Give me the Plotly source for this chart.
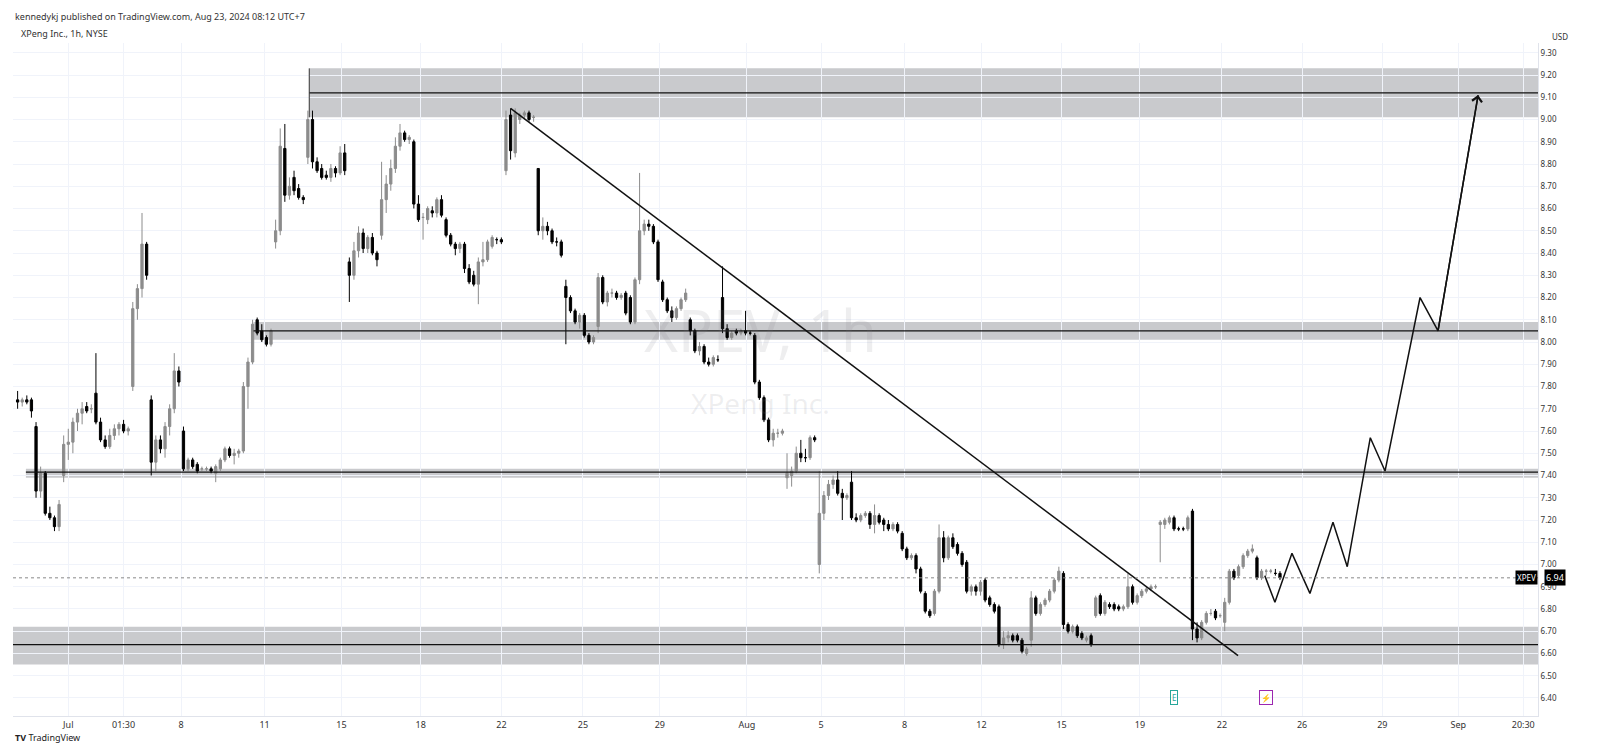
import plotly.graph_objects as go

# hourly XPEV bars (open, high, low, close)
bars = [
    (7.74,7.78,7.70,7.73),(7.73,7.75,7.71,7.74),(7.74,7.76,7.72,7.73),(7.74,7.75,7.66,7.69),
    (7.62,7.64,7.30,7.33),(7.33,7.44,7.30,7.41),(7.41,7.42,7.22,7.23),(7.23,7.26,7.20,7.21),
    (7.21,7.22,7.15,7.17),(7.17,7.29,7.15,7.27),(7.40,7.58,7.37,7.54),(7.54,7.61,7.47,7.55),
    (7.55,7.66,7.50,7.64),(7.64,7.70,7.60,7.68),(7.68,7.73,7.63,7.70),(7.71,7.73,7.68,7.69),
    (7.70,7.72,7.68,7.70),(7.77,7.95,7.63,7.64),(7.64,7.66,7.55,7.56),(7.56,7.58,7.52,7.53),
    (7.53,7.61,7.52,7.58),(7.58,7.63,7.56,7.61),(7.61,7.64,7.58,7.63),(7.63,7.65,7.59,7.60),
    (7.60,7.62,7.58,7.61),(7.80,8.18,7.78,8.15),(8.15,8.26,8.10,8.24),(8.24,8.58,8.20,8.44),
    (8.44,8.45,8.28,8.30),(7.74,7.76,7.40,7.46),(7.46,7.58,7.42,7.56),(7.56,7.58,7.50,7.52),
    (7.52,7.64,7.48,7.62),(7.62,7.72,7.58,7.70),(7.70,7.95,7.68,7.87),(7.87,7.89,7.80,7.82),
    (7.60,7.62,7.42,7.43),(7.43,7.48,7.42,7.47),(7.47,7.48,7.43,7.44),(7.45,7.46,7.41,7.42),
    (7.43,7.44,7.42,7.43),(7.43,7.44,7.42,7.43),(7.43,7.44,7.41,7.42),(7.41,7.45,7.37,7.44),
    (7.43,7.48,7.42,7.47),(7.47,7.53,7.46,7.52),(7.52,7.53,7.48,7.49),(7.49,7.52,7.45,7.50),
    (7.50,7.52,7.48,7.51),(7.51,7.82,7.50,7.80),(7.80,7.93,7.70,7.91),(7.91,8.10,7.90,8.08),
    (8.10,8.11,8.03,8.04),(8.05,8.08,8.00,8.01),(8.02,8.03,7.98,7.99),(7.99,8.06,7.98,8.05),
    (8.45,8.55,8.42,8.50),(8.50,8.96,8.48,8.88),(8.87,8.98,8.63,8.66),(8.66,8.74,8.64,8.70),
    (8.74,8.77,8.66,8.68),(8.69,8.71,8.64,8.65),(8.65,8.66,8.62,8.64),(8.83,9.04,8.80,9.00),
    (9.00,9.04,8.78,8.81),(8.81,8.83,8.76,8.77),(8.78,8.80,8.73,8.74),(8.75,8.77,8.73,8.74),
    (8.74,8.80,8.72,8.78),(8.78,8.79,8.74,8.76),(8.76,8.88,8.75,8.85),(8.85,8.89,8.75,8.77),
    (8.36,8.38,8.18,8.30),(8.30,8.45,8.28,8.41),(8.41,8.52,8.38,8.49),(8.49,8.51,8.40,8.42),
    (8.42,8.48,8.40,8.47),(8.47,8.49,8.39,8.40),(8.40,8.41,8.34,8.37),(8.48,8.81,8.46,8.64),
    (8.64,8.75,8.58,8.71),(8.71,8.82,8.68,8.78),(8.78,8.92,8.76,8.88),(8.88,8.98,8.86,8.94),
    (8.94,8.95,8.90,8.91),(8.91,8.93,8.89,8.92),(8.90,8.91,8.60,8.62),(8.62,8.66,8.54,8.55),
    (8.56,8.58,8.46,8.56),(8.55,8.61,8.53,8.60),(8.59,8.61,8.56,8.58),(8.58,8.65,8.56,8.64),
    (8.64,8.66,8.56,8.57),(8.55,8.56,8.47,8.48),(8.48,8.49,8.43,8.44),(8.44,8.45,8.39,8.42),
    (8.42,8.45,8.40,8.44),(8.44,8.45,8.31,8.33),(8.33,8.35,8.26,8.27),(8.30,8.32,8.25,8.26),
    (8.26,8.38,8.17,8.36),(8.36,8.45,8.34,8.37),(8.37,8.46,8.36,8.45),(8.43,8.48,8.42,8.47),
    (8.46,8.47,8.44,8.46),(8.46,8.47,8.44,8.45),(8.77,9.04,8.75,9.00),(9.02,9.05,8.82,8.86),
    (8.85,9.05,8.83,9.03),(9.00,9.03,8.98,9.02),(9.02,9.04,9.00,9.03),(9.03,9.04,8.99,9.00),
    (9.01,9.02,8.99,9.01),(8.78,8.78,8.48,8.50),(8.50,8.56,8.46,8.52),(8.52,8.54,8.48,8.50),
    (8.50,8.51,8.44,8.45),(8.45,8.47,8.43,8.45),(8.45,8.46,8.38,8.39),(8.25,8.28,7.99,8.20),
    (8.20,8.21,8.13,8.14),(8.14,8.15,8.08,8.09),(8.09,8.13,8.06,8.12),(8.12,8.13,8.02,8.03),
    (8.03,8.04,7.99,8.00),(8.00,8.03,7.99,8.02),(8.07,8.31,8.04,8.29),(8.29,8.30,8.17,8.18),
    (8.18,8.23,8.16,8.22),(8.22,8.24,8.20,8.22),(8.22,8.23,8.19,8.20),(8.20,8.22,8.19,8.21),
    (8.22,8.23,8.12,8.13),(8.20,8.21,8.08,8.09),(8.09,8.29,8.08,8.28),(8.28,8.76,8.26,8.50),
    (8.50,8.55,8.48,8.53),(8.53,8.55,8.50,8.52),(8.52,8.53,8.44,8.45),(8.45,8.46,8.27,8.28),
    (8.27,8.28,8.18,8.19),(8.19,8.20,8.13,8.14),(8.14,8.16,8.09,8.11),(8.11,8.16,8.10,8.15),
    (8.15,8.20,8.14,8.19),(8.19,8.24,8.18,8.22),(8.10,8.11,8.03,8.05),(8.05,8.06,7.95,7.96),
    (7.96,8.00,7.94,7.98),(7.98,7.99,7.90,7.91),(7.91,7.93,7.89,7.90),(7.90,7.94,7.89,7.93),
    (7.92,7.94,7.91,7.92),(8.20,8.34,8.04,8.06),(8.06,8.08,8.01,8.02),(8.02,8.05,8.01,8.04),
    (8.05,8.06,8.03,8.04),(8.04,8.06,8.03,8.05),(8.05,8.14,8.03,8.04),(8.04,8.05,8.03,8.04),
    (8.03,8.04,7.81,7.82),(7.82,7.83,7.74,7.75),(7.75,7.76,7.64,7.65),(7.65,7.66,7.55,7.56),
    (7.56,7.61,7.53,7.59),(7.59,7.61,7.57,7.59),(7.59,7.61,7.58,7.60),(7.39,7.50,7.34,7.41),
    (7.40,7.44,7.35,7.42),(7.42,7.53,7.41,7.50),(7.50,7.56,7.46,7.48),(7.48,7.52,7.46,7.48),
    (7.48,7.58,7.47,7.57),(7.57,7.58,7.55,7.56),(7.00,7.42,6.96,7.23),(7.23,7.33,7.20,7.31),
    (7.31,7.38,7.29,7.36),(7.36,7.40,7.34,7.38),(7.38,7.42,7.31,7.32),(7.32,7.34,7.20,7.30),
    (7.30,7.32,7.29,7.31),(7.37,7.42,7.20,7.21),(7.21,7.23,7.19,7.20),(7.20,7.23,7.19,7.22),
    (7.22,7.24,7.21,7.23),(7.23,7.24,7.16,7.18),(7.18,7.27,7.14,7.22),(7.22,7.23,7.18,7.19),
    (7.20,7.21,7.15,7.18),(7.18,7.20,7.15,7.16),(7.16,7.19,7.15,7.18),(7.18,7.19,7.14,7.15),
    (7.14,7.15,7.06,7.07),(7.07,7.08,7.02,7.03),(7.03,7.05,7.02,7.04),(7.04,7.05,6.96,6.98),
    (6.98,6.99,6.87,6.88),(6.87,6.88,6.78,6.79),(6.79,6.80,6.76,6.77),(6.78,6.89,6.77,6.88),
    (6.88,7.18,6.87,7.12),(7.12,7.15,7.01,7.03),(7.03,7.13,7.02,7.12),(7.12,7.14,7.07,7.08),
    (7.09,7.10,7.04,7.05),(7.05,7.06,6.99,7.00),(7.01,7.02,6.87,6.88),(6.88,6.91,6.86,6.90),
    (6.90,6.91,6.86,6.88),(6.88,6.93,6.86,6.92),(6.93,6.94,6.83,6.84),(6.85,6.86,6.81,6.82),
    (6.82,6.83,6.78,6.79),(6.81,6.82,6.63,6.64),(6.64,6.70,6.62,6.67),(6.67,6.70,6.65,6.68),
    (6.68,6.69,6.65,6.66),(6.68,6.69,6.65,6.66),(6.66,6.67,6.60,6.61),(6.60,6.63,6.59,6.62),
    (6.66,6.88,6.63,6.85),(6.85,6.86,6.77,6.78),(6.78,6.83,6.77,6.82),(6.82,6.85,6.81,6.84),
    (6.84,6.89,6.83,6.88),(6.88,6.94,6.87,6.93),(6.93,6.99,6.92,6.97),(6.96,6.97,6.71,6.73),
    (6.73,6.74,6.69,6.70),(6.70,6.73,6.69,6.72),(6.72,6.73,6.67,6.68),(6.69,6.70,6.66,6.67),
    (6.66,6.68,6.65,6.67),(6.68,6.69,6.63,6.64),(6.77,6.86,6.76,6.85),(6.86,6.87,6.77,6.78),
    (6.78,6.84,6.77,6.83),(6.82,6.83,6.80,6.81),(6.82,6.83,6.79,6.80),(6.81,6.82,6.79,6.80),
    (6.80,6.82,6.79,6.81),(6.81,6.96,6.80,6.90),(6.90,6.91,6.82,6.83),(6.83,6.87,6.82,6.86),
    (6.86,6.89,6.85,6.88),(6.88,6.90,6.87,6.89),(6.89,6.91,6.88,6.90),(6.90,6.91,6.89,6.90),
    (7.18,7.20,7.01,7.19),(7.18,7.21,7.16,7.20),(7.19,7.22,7.18,7.21),(7.21,7.22,7.15,7.16),
    (7.16,7.17,7.15,7.16),(7.16,7.17,7.15,7.16),(7.16,7.22,7.15,7.21),(7.24,7.25,6.66,6.71),
    (6.71,6.74,6.65,6.67),(6.67,6.75,6.66,6.74),(6.74,6.79,6.73,6.78),(6.78,6.80,6.77,6.78),
    (6.79,6.80,6.75,6.76),(6.77,6.78,6.76,6.77),(6.74,6.85,6.70,6.83),(6.83,6.98,6.82,6.97),
    (6.97,6.98,6.93,6.94),(6.95,7.00,6.94,6.99),(6.99,7.05,6.98,7.04),(7.04,7.07,7.03,7.06),
    (7.06,7.09,7.05,7.07),(7.03,7.04,6.93,6.94),(6.94,6.98,6.93,6.97),(6.97,6.98,6.95,6.97),
    (6.97,6.98,6.96,6.97),(6.96,6.98,6.95,6.96),(6.96,6.97,6.93,6.94),
]
opens = [b[0] for b in bars]
highs = [b[1] for b in bars]
lows = [b[2] for b in bars]
closes = [b[3] for b in bars]
bar_no = list(range(1, len(bars) + 1))

# date labels on the bar axis
tick_pos = [12, 24, 36.5, 54.6, 71.3, 88.5, 106, 123.7, 140.4, 159.3, 175.4, 193.5,
            210.2, 227.6, 244.6, 262.4, 279.8, 297.2, 313.7, 327.8]
tick_txt = ['Jul', '01:30', '8', '11', '15', '18', '22', '25', '29', 'Aug', '5', '8',
            '12', '15', '19', '22', '26', '29', 'Sep', '20:30']

# drawings
trend_x = [108.0, 265.9]
trend_y = [9.05, 6.59]
path_x = [271.7, 273.9, 277.6, 281.5, 286.5, 289.6, 294.6, 297.8, 305.4, 309.3, 318.0]
path_y = [6.95, 6.83, 7.05, 6.87, 7.19, 6.99, 7.57, 7.42, 8.20, 8.05, 9.11]
zones = [  # start bar, low, high, line level
    (64.3, 9.01, 9.23, 9.12),
    (52.2, 8.01, 8.09, 8.05),
    (2.8, 7.39, 7.43, 7.415),
    (0.0, 6.55, 6.72, 6.64),
]
last_price = 6.94

XMAX = 331
fig = go.Figure()

for x0, lo, hi, lvl in zones:
    fig.add_shape(type='rect', x0=x0, x1=XMAX, y0=lo, y1=hi, fillcolor='#c9cacd',
                  line=dict(width=0), layer='below')
    fig.add_shape(type='line', x0=x0, x1=XMAX, y0=lvl, y1=lvl, line=dict(color='#111', width=1.3))
fig.add_shape(type='line', x0=zones[0][0], x1=zones[0][0], y0=zones[0][1], y1=zones[0][2],
              line=dict(color='#333', width=1))
fig.add_shape(type='line', x0=0, x1=XMAX, y0=last_price, y1=last_price,
              line=dict(color='#888', width=1, dash='dot'))

fig.add_trace(go.Candlestick(
    x=bar_no, open=opens, high=highs, low=lows, close=closes,
    increasing=dict(line=dict(color='#8c8c8c', width=1), fillcolor='#8c8c8c'),
    decreasing=dict(line=dict(color='#000000', width=1), fillcolor='#000000'),
    whiskerwidth=0, showlegend=False, hoverinfo='skip'))

fig.add_trace(go.Scatter(x=trend_x, y=trend_y, mode='lines', line=dict(color='#111', width=1.5),
                         showlegend=False, hoverinfo='skip'))
fig.add_trace(go.Scatter(x=path_x, y=path_y, mode='lines', line=dict(color='#111', width=1.5),
                         showlegend=False, hoverinfo='skip'))
fig.add_annotation(x=path_x[-1], y=path_y[-1], ax=path_x[-2], ay=path_y[-2], xref='x', yref='y',
                   axref='x', ayref='y', showarrow=True, arrowhead=4, arrowsize=1.3,
                   arrowwidth=1.5, arrowcolor='#111', text='')

# watermark
fig.add_annotation(x=0.49, y=0.575, xref='paper', yref='paper', text='XPEV, 1h', showarrow=False,
                   font=dict(size=58, color='rgba(120,123,134,0.13)', family='Noto Sans'))
fig.add_annotation(x=0.49, y=0.465, xref='paper', yref='paper', text='XPeng Inc.', showarrow=False,
                   font=dict(size=28, color='rgba(120,123,134,0.13)', family='Noto Sans'))

# labels
fig.add_annotation(x=0.0, y=1.04, xref='paper', yref='paper', xanchor='left', yanchor='middle',
                   text='kennedykj published on TradingView.com, Aug 23, 2024 08:12 UTC+7',
                   showarrow=False, font=dict(size=9, color='#333'))
fig.add_annotation(x=0.004, y=1.0134, xref='paper', yref='paper', xanchor='left', yanchor='middle',
                   text='XPeng Inc., 1h, NYSE', showarrow=False, font=dict(size=9, color='#333'))
fig.add_annotation(x=1.008, y=1.01, xref='paper', yref='paper', xanchor='left', yanchor='middle',
                   text='USD', showarrow=False, font=dict(size=8, color='#333'))
fig.add_annotation(x=0.0, y=-0.032, xref='paper', yref='paper', xanchor='left', yanchor='middle',
                   text='<b>TV</b> TradingView', showarrow=False, font=dict(size=9, color='#222'))
fig.add_annotation(x=1.0, y=last_price, xref='paper', yref='y', xanchor='right', text='XPEV',
                   showarrow=False, bgcolor='#000', font=dict(size=8, color='#fff'), borderpad=1)
fig.add_annotation(x=1.004, y=last_price, xref='paper', yref='y', xanchor='left', text='6.94',
                   showarrow=False, bgcolor='#000', font=dict(size=9, color='#fff'), borderpad=1)
fig.add_annotation(x=252, y=6.40, xref='x', yref='y', text='E', showarrow=False,
                   bordercolor='#26a69a', borderwidth=1, font=dict(size=8, color='#26a69a'), borderpad=1)
fig.add_annotation(x=272, y=6.40, xref='x', yref='y', text='⚡', showarrow=False,
                   bordercolor='#9c27b0', borderwidth=1, font=dict(size=8, color='#9c27b0'), borderpad=1)

fig.update_layout(
    width=1600, height=752, margin=dict(l=5, r=70, t=35, b=44),
    paper_bgcolor='white', plot_bgcolor='white',
    font=dict(family='Noto Sans', size=9, color='#333'),
    xaxis=dict(range=[0, XMAX], rangeslider=dict(visible=False), tickvals=tick_pos, ticktext=tick_txt,
               showgrid=True, gridcolor='#f0f3fa', zeroline=False, showline=True, linecolor='#e0e3eb',
               ticks='', tickfont=dict(size=9, color='#333')),
    yaxis=dict(range=[6.319, 9.344], side='right', dtick=0.1, tick0=6.4, tickformat='.2f',
               showgrid=True, gridcolor='#f0f3fa', zeroline=False, showline=True, linecolor='#e0e3eb',
               ticks='', tickfont=dict(size=8, color='#333')),
)
fig.write_html("out.html")
